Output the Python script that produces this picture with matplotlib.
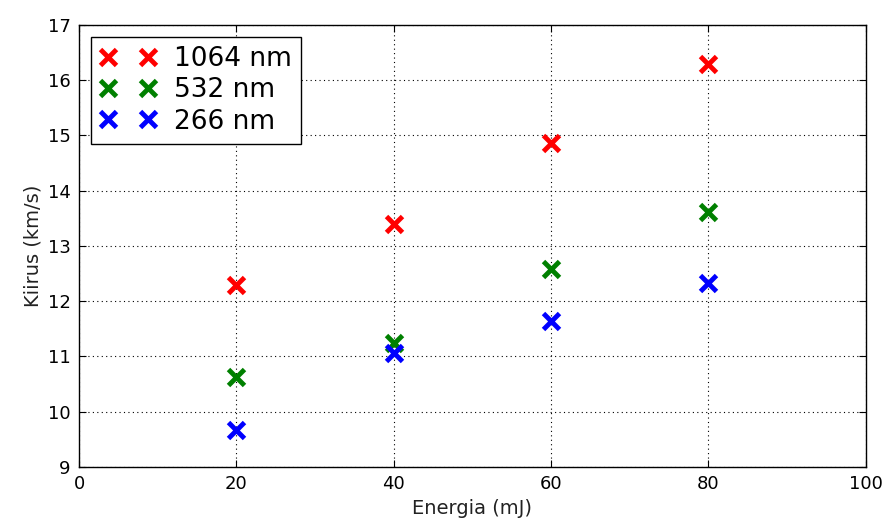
import matplotlib
matplotlib.use("Agg")
import matplotlib.pyplot as plt

energy = [20, 40, 60, 80]
v1064 = [12.30, 13.40, 14.87, 16.30]
v532 = [10.63, 11.24, 12.59, 13.62]
v266 = [9.67, 11.06, 11.65, 12.32]
labels = ["1064 nm", "532 nm", "266 nm"]
colors = ["red", "green", "blue"]

fig = plt.figure(figsize=(8.88, 5.30), dpi=100)
ax = fig.add_axes([0.089, 0.119, 0.886, 0.834])
for ys, lab, c in zip([v1064, v532, v266], labels, colors):
    ax.plot(energy, ys, linestyle="none", marker="x", markersize=11,
            markeredgewidth=3.5, color=c, label=lab)

ax.set_xlim(0, 100)
ax.set_ylim(9, 17)
ax.set_xticks([0, 20, 40, 60, 80, 100])
ax.set_yticks(range(9, 18))
ax.tick_params(direction="in", top=True, right=True, labelsize=13, length=5, pad=6)
ax.grid(True, color="black", linestyle=(0, (1, 3)), linewidth=0.8)
ax.set_xlabel("Energia (mJ)", fontsize=14, color="#222222")
ax.set_ylabel("Kiirus (km/s)", fontsize=14, color="#222222")
for s in ax.spines.values():
    s.set_linewidth(1.0)
leg = ax.legend(loc="upper left", numpoints=2, fontsize=19, fancybox=False,
                framealpha=1, edgecolor="black", handlelength=2.1,
                handletextpad=0.7, borderpad=0.35, labelspacing=0.2,
                borderaxespad=0.45)
leg.get_frame().set_linewidth(1.0)
fig.savefig("out.png", dpi=100)
